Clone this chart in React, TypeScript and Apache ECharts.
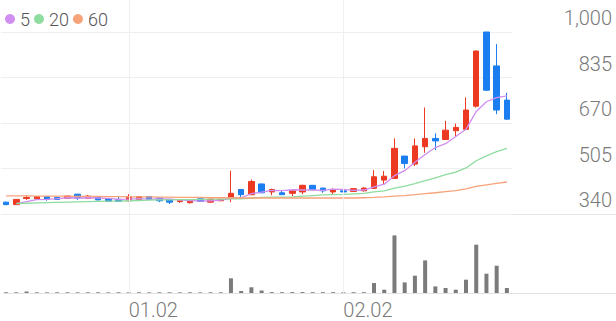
import React, { useEffect, useRef } from 'react';
import * as echarts from 'echarts';

const DATES = [
  '12.13', '12.14', '12.15', '12.16', '12.17', '12.20', '12.21', '12.22', '12.23', '12.24',
  '12.27', '12.28', '01.02', '01.03', '01.04', '01.05', '01.08', '01.09', '01.10', '01.11',
  '01.12', '01.15', '01.16', '01.17', '01.18', '01.19', '01.22', '01.25', '01.26', '01.29',
  '01.30', '01.31', '02.01', '02.02', '02.05', '02.06', '02.07', '02.08', '02.09', '02.12',
  '02.13', '02.14', '02.15', '02.16', '02.19', '02.20', '02.21', '02.22', '02.23', '02.26',
];
const LABELED_DATES = ['01.02', '02.02'];

const OPEN = [
  383, 374, 396, 395, 403, 400, 397, 412, 397, 400,
  395, 393, 388, 393, 403, 398, 393, 385, 381, 395,
  383, 388, 400, 429, 410, 449, 420, 417, 415, 420,
  444, 434, 420, 424, 422, 424, 433, 463, 469, 550,
  521, 584, 614, 610, 642, 647, 731, 1000, 877, 753,
];
const CLOSE = [
  374, 393, 400, 403, 393, 393, 405, 398, 405, 391,
  386, 386, 403, 403, 393, 388, 383, 388, 391, 386,
  393, 393, 415, 410, 458, 417, 429, 410, 424, 444,
  429, 424, 427, 420, 432, 434, 475, 477, 578, 523,
  587, 614, 605, 644, 654, 717, 931, 789, 717, 684,
];
const LOW = [
  372, 373, 391, 394, 388, 392, 396, 391, 394, 390,
  385, 385, 385, 392, 392, 383, 376, 380, 378, 385,
  381, 387, 383, 400, 408, 415, 408, 409, 405, 412,
  428, 417, 410, 410, 420, 422, 431, 445, 467, 505,
  514, 562, 572, 608, 620, 645, 726, 787, 702, 682,
];
const HIGH = [
  385, 394, 408, 404, 404, 401, 406, 413, 409, 401,
  396, 405, 412, 404, 404, 399, 394, 389, 392, 396,
  398, 394, 497, 430, 465, 450, 432, 427, 425, 446,
  445, 435, 434, 432, 433, 437, 499, 496, 614, 551,
  614, 726, 632, 678, 668, 763, 933, 1000, 956, 779,
];

const MA5 = [
  null, 378, 385, 392, 393, 396, 399, 398, 399, 398,
  397, 393, 394, 396, 394, 395, 394, 391, 389, 387,
  388, 390, 396, 399, 414, 419, 426, 425, 428, 427,
  427, 426, 430, 429, 426, 427, 438, 448, 479, 497,
  528, 556, 581, 595, 621, 647, 712, 747, 762, 768,
];
const MA20 = [
  null, 378, 379, 380, 381, 382, 383, 384, 385, 386,
  387, 387, 388, 389, 390, 391, 391, 392, 392, 393,
  394, 394, 395, 395, 398, 400, 401, 401, 402, 405,
  407, 409, 410, 411, 413, 415, 420, 424, 434, 441,
  450, 461, 471, 483, 492, 507, 533, 551, 566, 578,
];
const MA60 = [
  406, 406, 406, 405, 405, 405, 405, 404, 404, 404,
  403, 403, 402, 402, 402, 401, 401, 400, 400, 400,
  399, 399, 399, 398, 398, 398, 398, 398, 398, 398,
  398, 398, 398, 398, 398, 399, 400, 402, 405, 407,
  410, 414, 417, 421, 425, 431, 440, 446, 451, 456,
];

const VOLUME = [
  8, 7, 15, 7, 6, 7, 7, 6, 7, 7,
  6, 7, 7, 7, 6, 7, 7, 6, 7, 6,
  7, 7, 147, 20, 57, 25, 9, 8, 9, 9,
  8, 8, 8, 7, 8, 8, 100, 33, 576, 106,
  173, 326, 66, 50, 33, 133, 483, 193, 273, 50,
];

const PRICE_MIN = 340;
const PRICE_MAX = 1000;
const PRICE_STEP = 165;
const VOLUME_MAX = 680;

const UP = '#ec3a22';
const DOWN = '#1b7ef0';
const C5 = '#d08ef0';
const C20 = '#8fdca0';
const C60 = '#f8a27a';
const FONT = 'Roboto, sans-serif';
const LABEL_COLOR = '#7a7a7a';

export default function App() {
  const ref = useRef<HTMLDivElement>(null);
  useEffect(() => {
    document.body.style.margin = '0';
    const chart = echarts.init(ref.current as HTMLDivElement, undefined, { renderer: 'svg' });
    const candles = OPEN.map((o, i) => [o, CLOSE[i], LOW[i], HIGH[i]]);
    const maLine = (name: string, data: (number | null)[], color: string) => ({
      name,
      type: 'line',
      xAxisIndex: 0,
      yAxisIndex: 0,
      data,
      symbol: 'none',
      showSymbol: false,
      connectNulls: true,
      itemStyle: { color },
      lineStyle: { color, width: 1.3 },
      z: 3,
    });
    chart.setOption({
      animation: false,
      backgroundColor: '#ffffff',
      legend: {
        left: 0,
        top: 5,
        icon: 'circle',
        itemWidth: 10,
        itemHeight: 10,
        itemGap: 4,
        data: ['5', '20', '60'],
        textStyle: { fontSize: 18, color: '#555555', fontFamily: FONT, fontWeight: 300 },
      },
      grid: [
        { left: 1, right: 104, top: 32, height: 182 },
        { left: 1, right: 104, top: 225, height: 68 },
        { left: 1, right: 104, top: 0, height: 293 },
      ],
      xAxis: [
        {
          type: 'category',
          gridIndex: 0,
          data: DATES,
          axisLine: { show: false },
          axisTick: { show: false },
          axisLabel: { show: false },
          splitLine: { show: false },
        },
        {
          type: 'category',
          gridIndex: 1,
          data: DATES,
          axisLine: { show: false },
          axisTick: { show: false },
          splitLine: { show: false },
          axisLabel: {
            interval: (_i: number, v: string) => LABELED_DATES.includes(v),
            align: 'left',
            margin: 7,
            fontSize: 20,
            fontWeight: 300,
            color: LABEL_COLOR,
            fontFamily: FONT,
          },
        },
        {
          type: 'category',
          gridIndex: 2,
          data: DATES,
          show: false,
        },
      ],
      yAxis: [
        {
          type: 'value',
          gridIndex: 0,
          position: 'right',
          min: PRICE_MIN,
          max: PRICE_MAX,
          interval: PRICE_STEP,
          axisLine: { show: false },
          axisTick: { show: false },
          splitLine: { show: true, lineStyle: { color: '#efefef', width: 1 } },
          axisLabel: {
            showMinLabel: true,
            showMaxLabel: true,
            align: 'right',
            verticalAlign: 'bottom',
            lineHeight: 20,
            padding: [0, 0, 4, 0],
            margin: 100,
            fontSize: 20,
            fontWeight: 300,
            color: LABEL_COLOR,
            fontFamily: FONT,
            formatter: (v: number) => v.toLocaleString('en-US'),
          },
        },
        {
          type: 'value',
          gridIndex: 1,
          min: 0,
          max: VOLUME_MAX,
          show: false,
          splitLine: { show: false },
        },
        {
          type: 'value',
          gridIndex: 2,
          min: 0,
          max: 1,
          show: false,
          splitLine: { show: false },
        },
      ],
      graphic: [
        {
          type: 'line',
          silent: true,
          z: 0,
          shape: { x1: 3, y1: 214.5, x2: 616, y2: 214.5 },
          style: { stroke: '#e8e8e8', lineWidth: 1 },
        },
        {
          type: 'line',
          silent: true,
          z: 0,
          shape: { x1: 3, y1: 293.5, x2: 616, y2: 293.5 },
          style: { stroke: '#e2e2e2', lineWidth: 1 },
        },
      ],
      series: [
        {
          name: 'guides',
          type: 'line',
          xAxisIndex: 2,
          yAxisIndex: 2,
          data: [],
          z: 0,
          silent: true,
          markLine: {
            silent: true,
            symbol: ['none', 'none'],
            label: { show: false },
            lineStyle: { color: '#efefef', width: 1, type: 'solid' },
            data: LABELED_DATES.map((d) => ({ xAxis: d })),
          },
        },
        {
          name: 'price',
          type: 'candlestick',
          xAxisIndex: 0,
          yAxisIndex: 0,
          data: candles,
          barWidth: 6,
          itemStyle: {
            color: UP,
            color0: DOWN,
            borderColor: UP,
            borderColor0: DOWN,
            borderWidth: 1,
          },
          z: 2,
        },
        maLine('5', MA5, C5),
        maLine('20', MA20, C20),
        maLine('60', MA60, C60),
        {
          name: 'volume',
          type: 'bar',
          xAxisIndex: 1,
          yAxisIndex: 1,
          data: VOLUME,
          barWidth: 4,
          itemStyle: { color: '#7b7b7b' },
        },
      ],
    });
    return () => chart.dispose();
  }, []);
  return (
    <div
      ref={ref}
      style={{ position: 'absolute', left: 0, top: 0, width: 616, height: 321, background: '#fff' }}
    />
  );
}
